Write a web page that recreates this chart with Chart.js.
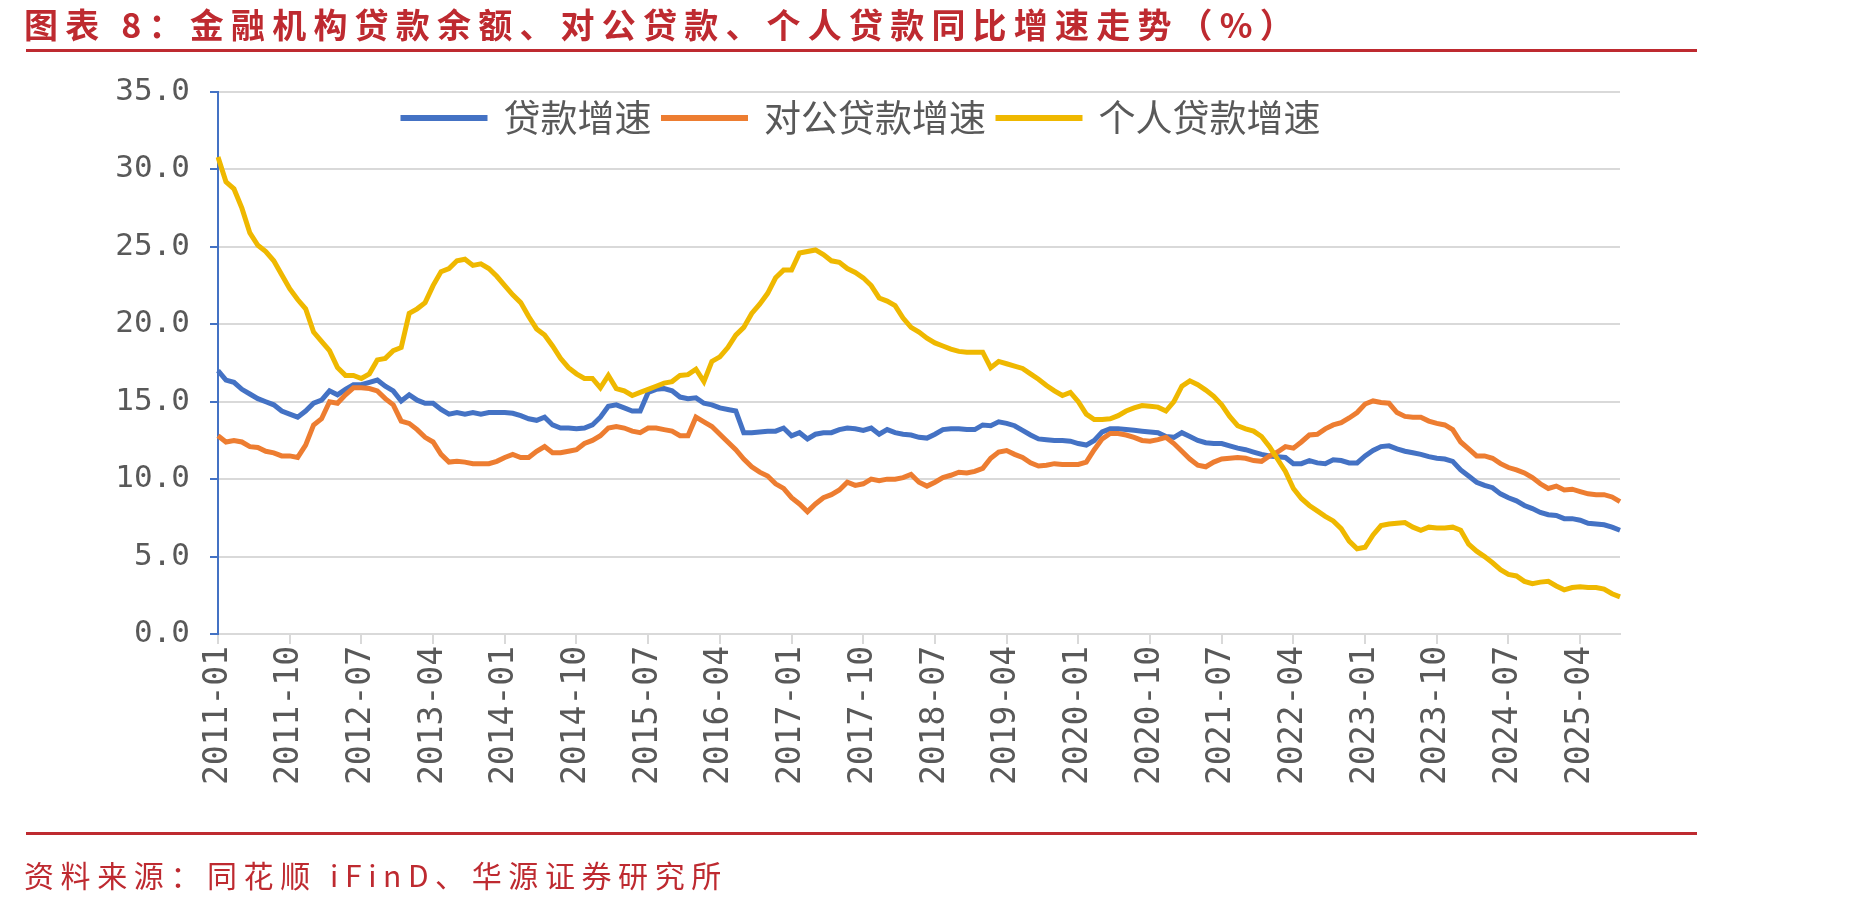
<!DOCTYPE html>
<html lang="zh-CN">
<head>
  <meta charset="UTF-8" />
  <title>金融机构贷款余额、对公贷款、个人贷款同比增速走势</title>
  <script src="https://cdn.jsdelivr.net/npm/chart.js"></script>
  <style>
    body {
      margin: 0;
      background: #fff;
      width: 1852px;
      height: 906px;
      overflow: hidden;
      position: relative;
      font-family: "Noto Sans CJK SC", sans-serif;
    }
    #title {
      position: absolute; left: 24px; top: 3px;
      font-size: 34px; font-weight: bold; line-height: 42px;
      color: #BE2A30; letter-spacing: 7.2px; white-space: nowrap;
    }
    .rule { position: absolute; left: 26px; width: 1671px; height: 3px; background: #BE2A30; }
    #source {
      position: absolute; left: 24px; top: 853px;
      font-size: 30px; line-height: 42px;
      color: #BE2A30; letter-spacing: 6.6px; white-space: nowrap;
    }
    #chart-container { position: absolute; left: 0; top: 0; width: 1852px; height: 906px; }
  </style>
</head>
<body>
  <div id="chart-container"><canvas id="chart"></canvas></div>
  <div id="title">图表 8：金融机构贷款余额、对公贷款、个人贷款同比增速走势（%）</div>
  <div class="rule" style="top:49px"></div>
  <div class="rule" style="top:832px"></div>
  <div id="source">资料来源：同花顺 iFinD、华源证券研究所</div>

  <script>
    // monthly, 2011-01 .. 2025-09
    const firstYear = 2011;
    const monthCount = 177;
    const labelStep = 9;
    const months = [];
    for (let k = 0; k < monthCount; k++) {
      const y = firstYear + Math.floor(k / 12);
      const m = (k % 12) + 1;
      months.push(y + '-' + String(m).padStart(2, '0'));
    }

    const seriesNames = ['贷款增速', '对公贷款增速', '个人贷款增速'];
    const yTicks = [0, 5, 10, 15, 20, 25, 30, 35];

    const loanGrowth = [
      17.0, 16.4, 16.25, 15.8, 15.5, 15.2, 15.0, 14.8, 14.4, 14.2, 14.0, 14.4,
      14.9, 15.1, 15.7, 15.45, 15.8, 16.1, 16.1, 16.25, 16.4, 16.0, 15.7, 15.05,
      15.45, 15.1, 14.9, 14.9, 14.5, 14.2, 14.3, 14.2, 14.3, 14.2, 14.3, 14.3,
      14.3, 14.25, 14.1, 13.9, 13.8, 14.0, 13.5, 13.3, 13.3, 13.25, 13.3, 13.5,
      14.0, 14.7, 14.8, 14.6, 14.4, 14.4, 15.6, 15.8, 15.85, 15.7, 15.3, 15.2,
      15.25, 14.9, 14.8, 14.6, 14.5, 14.4, 13.0, 13.0, 13.05, 13.1, 13.1, 13.3,
      12.8, 13.0, 12.6, 12.9, 13.0, 13.0, 13.2, 13.3, 13.25, 13.15, 13.3, 12.9,
      13.2, 13.0, 12.9, 12.85, 12.7, 12.65, 12.9, 13.2, 13.25, 13.25, 13.2, 13.2,
      13.5, 13.45, 13.7, 13.6, 13.45, 13.15, 12.85, 12.6, 12.55, 12.5, 12.5, 12.45,
      12.3, 12.2, 12.5, 13.05, 13.25, 13.25, 13.2, 13.15, 13.1, 13.05, 13.0, 12.75,
      12.7, 13.0, 12.75, 12.5, 12.35, 12.3, 12.3, 12.15, 12.0, 11.9, 11.75, 11.6,
      11.5, 11.45, 11.4, 11.0, 11.0, 11.2, 11.05, 11.0, 11.25, 11.2, 11.05, 11.05,
      11.5, 11.85, 12.1, 12.15, 11.95, 11.8, 11.7, 11.6, 11.45, 11.35, 11.3, 11.15,
      10.6, 10.2, 9.8, 9.6, 9.45, 9.05, 8.8, 8.6, 8.3, 8.1, 7.85, 7.7,
      7.65, 7.45, 7.45, 7.35, 7.15, 7.1, 7.05, 6.9, 6.7
    ];

    const corporateGrowth = [
      12.8, 12.4, 12.5, 12.4, 12.1, 12.05, 11.8, 11.7, 11.5, 11.5, 11.4, 12.2,
      13.5, 13.9, 15.0, 14.9, 15.45, 15.9, 15.9, 15.85, 15.7, 15.2, 14.8, 13.75,
      13.6, 13.2, 12.7, 12.4, 11.6, 11.1, 11.15, 11.1, 11.0, 11.0, 11.0, 11.15,
      11.4, 11.6, 11.4, 11.4, 11.8, 12.1, 11.7, 11.7, 11.8, 11.9, 12.3, 12.5,
      12.8, 13.3, 13.4, 13.3, 13.1, 13.0, 13.3, 13.3, 13.2, 13.1, 12.8, 12.8,
      14.0, 13.7, 13.4, 12.9, 12.4, 11.9, 11.3, 10.8, 10.45, 10.2, 9.7, 9.4,
      8.8, 8.4, 7.9, 8.4, 8.8, 9.0, 9.3, 9.8, 9.6, 9.7, 10.0, 9.9,
      10.0, 10.0, 10.1, 10.3, 9.8, 9.55, 9.8, 10.1, 10.25, 10.45, 10.4, 10.5,
      10.7, 11.35, 11.75, 11.85, 11.6, 11.4, 11.05, 10.85, 10.9, 11.0, 10.95, 10.95,
      10.95, 11.1, 11.9, 12.6, 12.95, 12.95, 12.85, 12.7, 12.5, 12.45, 12.55, 12.7,
      12.3, 11.8, 11.3, 10.9, 10.8, 11.1, 11.3, 11.35, 11.4, 11.35, 11.2, 11.15,
      11.5, 11.75, 12.1, 12.0, 12.4, 12.85, 12.9, 13.25, 13.5, 13.65, 13.95, 14.3,
      14.85, 15.05, 14.95, 14.9, 14.3, 14.05, 14.0, 14.0, 13.75, 13.6, 13.5, 13.2,
      12.4, 11.95, 11.5, 11.5, 11.35, 11.0, 10.75, 10.6, 10.4, 10.1, 9.7, 9.4,
      9.55, 9.3, 9.35, 9.2, 9.05, 9.0, 9.0, 8.85, 8.55
    ];

    const personalGrowth = [
      30.8, 29.2, 28.75, 27.5, 25.9, 25.1, 24.7, 24.1, 23.2, 22.3, 21.6, 21.0,
      19.5, 18.9, 18.3, 17.2, 16.7, 16.7, 16.5, 16.8, 17.7, 17.8, 18.3, 18.5,
      20.7, 21.0, 21.4, 22.5, 23.4, 23.6, 24.1, 24.2, 23.8, 23.9, 23.6, 23.1,
      22.5, 21.9, 21.4, 20.5, 19.7, 19.3, 18.6, 17.8, 17.2, 16.8, 16.5, 16.5,
      15.9, 16.7, 15.85, 15.7, 15.4, 15.6, 15.8, 16.0, 16.2, 16.3, 16.7, 16.75,
      17.1, 16.3, 17.6, 17.9, 18.5, 19.3, 19.8, 20.7, 21.3, 22.0, 23.0, 23.5,
      23.5, 24.6, 24.7, 24.8, 24.5, 24.1, 24.0, 23.6, 23.35, 23.0, 22.5, 21.7,
      21.5, 21.2, 20.4, 19.8, 19.5, 19.1, 18.8, 18.6, 18.4, 18.25, 18.2, 18.2,
      18.2, 17.2, 17.6, 17.45, 17.3, 17.15, 16.8, 16.45, 16.05, 15.7, 15.4, 15.6,
      15.0, 14.2, 13.85, 13.85, 13.9, 14.1, 14.4, 14.6, 14.75, 14.7, 14.65, 14.4,
      15.0, 16.0, 16.35, 16.1, 15.75, 15.35, 14.8, 14.05, 13.45, 13.25, 13.1, 12.75,
      12.1, 11.3, 10.5, 9.4, 8.75, 8.3, 7.95, 7.6, 7.3, 6.8, 6.0, 5.5,
      5.6, 6.4, 7.0, 7.1, 7.15, 7.2, 6.9, 6.7, 6.9, 6.85, 6.85, 6.9,
      6.7, 5.8, 5.35, 5.0, 4.6, 4.15, 3.85, 3.75, 3.4, 3.25, 3.35, 3.4,
      3.1, 2.85, 3.0, 3.05, 3.0, 3.0, 2.9, 2.6, 2.4
    ];

    const colors = ['#4472C4', '#ED7D31', '#EFB800'];
    const textGrey = '#595959';
    const legendFontSize = 37;
    const legendPadding = 12;

    // legend sits inside the plot, near the top
    const legendPlace = {
      id: 'legendPlace',
      afterLayout(chart) {
        const lg = chart.legend;
        lg.left = 391; lg.right = 1500; lg.width = lg.right - lg.left;
        lg.top = 118 - legendPadding - legendFontSize / 2;
        lg.height = 70; lg.bottom = lg.top + lg.height;
      }
    };

    const ctx = document.getElementById('chart').getContext('2d');
    new Chart(ctx, {
      type: 'line',
      data: {
        labels: months,
        datasets: [loanGrowth, corporateGrowth, personalGrowth].map((d, i) => ({
          label: seriesNames[i],
          data: d,
          borderColor: colors[i],
          backgroundColor: colors[i],
          borderWidth: 5,
          pointRadius: 0,
          tension: 0,
          fill: false,
          order: 3 - i
        }))
      },
      options: {
        responsive: true,
        maintainAspectRatio: false,
        animation: false,
        layout: { padding: { top: 91, right: 232, bottom: 112, left: 0 } },
        plugins: {
          tooltip: { enabled: false },
          legend: {
            position: 'top',
            align: 'start',
            maxHeight: 1,
            labels: {
              sort: (a, b) => a.datasetIndex - b.datasetIndex,
              boxWidth: 82,
              boxHeight: 1,
              padding: legendPadding,
              color: textGrey,
              font: { family: '"Noto Sans CJK SC"', size: legendFontSize }
            }
          }
        },
        scales: {
          x: {
            type: 'category',
            offset: false,
            grid: { drawOnChartArea: false, drawTicks: true, tickLength: 10, color: '#d9d9d9', lineWidth: 2 },
            border: { display: true, color: '#d9d9d9', width: 2 },
            ticks: {
              autoSkip: false,
              minRotation: 90,
              maxRotation: 90,
              padding: 2,
              color: textGrey,
              font: { family: '"DejaVu Sans Mono", monospace', size: 33 },
              callback: function (val, idx) {
                return idx % labelStep === 0 ? this.getLabelForValue(val) : null;
              }
            },
            afterFit: s => { s.height = 160; }
          },
          y: {
            min: yTicks[0],
            max: yTicks[yTicks.length - 1],
            grid: { color: '#d9d9d9', lineWidth: 2, tickColor: '#4472C4', tickLength: 8 },
            border: { display: true, color: '#4472C4', width: 2 },
            ticks: {
              stepSize: yTicks[1] - yTicks[0],
              padding: 20,
              color: textGrey,
              font: { family: '"DejaVu Sans Mono", monospace', size: 31 },
              callback: v => v.toFixed(1)
            },
            afterFit: s => { s.width = 218; }
          }
        }
      },
      plugins: [legendPlace]
    });
  </script>
</body>
</html>
